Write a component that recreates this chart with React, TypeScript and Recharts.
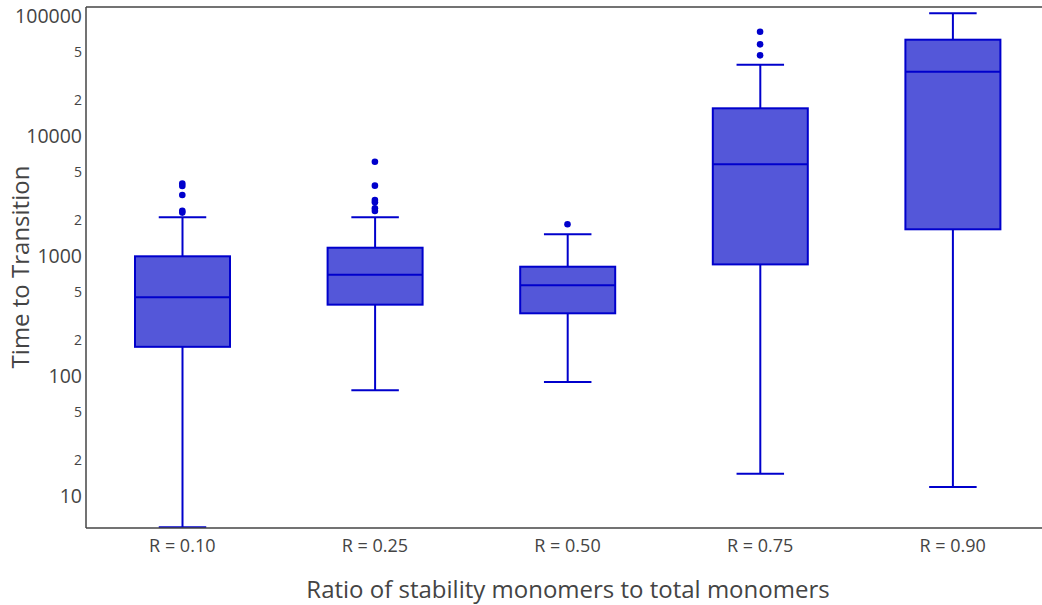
import React from "react";
import {
  ComposedChart,
  Bar,
  Scatter,
  XAxis,
  YAxis,
  ReferenceLine,
  Label,
} from "recharts";

const categories = ["R = 0.10", "R = 0.25", "R = 0.50", "R = 0.75", "R = 0.90"];
const whiskerLow = [5.5, 76, 89, 15.3, 11.9];
const q1 = [175, 393, 333, 851, 1669];
const median = [453, 698, 570, 5805, 34340];
const q3 = [994, 1172, 814, 17010, 63460];
const whiskerHigh = [2100, 2100, 1518, 39290, 105300];
const outliers: number[][] = [
  [4020, 3830, 3222, 2380, 2300],
  [6106, 3855, 2929, 2800, 2496, 2371],
  [1837],
  [73980, 58060, 46990],
  [],
];
const yTicks = [10, 20, 50, 100, 200, 500, 1000, 2000, 5000, 10000, 20000, 50000, 100000];
const yDomain: [number, number] = [5.41, 118850];

const boxData = categories.map((c, i) => ({
  cat: c,
  range: [whiskerLow[i], whiskerHigh[i]],
  lo: whiskerLow[i],
  q1: q1[i],
  med: median[i],
  q3: q3[i],
  hi: whiskerHigh[i],
}));

const outlierData = categories.flatMap((c, i) =>
  outliers[i].map((v) => ({ cat: c, v }))
);

const STROKE = "#0000cc";
const FILL = "#5457d9";
const TEXT = "#444";
const FONT = "'Open Sans', sans-serif";

const BoxShape = (props: any) => {
  const { x, y, width, height, payload } = props;
  if (x == null || y == null) return null;
  const lo = payload.lo;
  const hi = payload.hi;
  const L = Math.log10(hi) - Math.log10(lo);
  const yOf = (v: number) => y + (height * (Math.log10(hi) - Math.log10(v))) / L;
  const cx = x + width / 2;
  const capHalf = width / 4;
  const yq1 = yOf(payload.q1);
  const yq3 = yOf(payload.q3);
  const ym = yOf(payload.med);
  const yLo = y + height;
  const yHi = y;
  return (
    <g>
      <line x1={cx} x2={cx} y1={yHi} y2={yq3} stroke={STROKE} strokeWidth={2} />
      <line x1={cx} x2={cx} y1={yq1} y2={yLo} stroke={STROKE} strokeWidth={2} />
      <line x1={cx - capHalf} x2={cx + capHalf} y1={yHi} y2={yHi} stroke={STROKE} strokeWidth={2} />
      <line x1={cx - capHalf} x2={cx + capHalf} y1={yLo} y2={yLo} stroke={STROKE} strokeWidth={2} />
      <rect x={x} y={yq3} width={width} height={yq1 - yq3} fill={FILL} stroke={STROKE} strokeWidth={2} />
      <line x1={x} x2={x + width} y1={ym} y2={ym} stroke={STROKE} strokeWidth={2} />
    </g>
  );
};

const YTick = (props: any) => {
  const { y, payload } = props;
  const v = payload.value;
  const major = Math.abs(Math.log10(v) - Math.round(Math.log10(v))) < 1e-9;
  const label = major ? String(v) : String(Math.round(v / Math.pow(10, Math.floor(Math.log10(v)))));
  return (
    <text
      x={82}
      y={y}
      dy={major ? 7 : 5}
      textAnchor="end"
      fill={TEXT}
      fontFamily={FONT}
      fontSize={major ? 19.5 : 14}
    >
      {label}
    </text>
  );
};

const XTick = (props: any) => {
  const { x, y, payload } = props;
  return (
    <text x={x} y={y} dy={16} textAnchor="middle" fill={TEXT} fontFamily={FONT} fontSize={18}>
      {payload.value}
    </text>
  );
};

const Dot = (props: any) => {
  const { cx, cy } = props;
  if (cx == null || cy == null) return null;
  return <circle cx={cx} cy={cy} r={3.3} fill={STROKE} />;
};

export default function App() {
  return (
    <div style={{ position: "absolute", left: 0, top: 0, width: 1042, height: 605, overflow: "hidden", background: "#fff" }}>
      <ComposedChart
        width={1060}
        height={605}
        data={boxData}
        margin={{ top: 7, right: 11, bottom: 0, left: 0 }}
      >
        <XAxis
          dataKey="cat"
          type="category"
          allowDuplicatedCategory={false}
          height={77}
          axisLine={{ stroke: TEXT, strokeWidth: 1.5 }}
          tickLine={false}
          tick={<XTick />}
          interval={0}
        >
          <Label
            content={() => (
              <text x={568} y={598} textAnchor="middle" fill={TEXT} fontFamily={FONT} fontSize={24}>
                Ratio of stability monomers to total monomers
              </text>
            )}
          />
        </XAxis>
        <YAxis
          type="number"
          scale="log"
          domain={yDomain}
          allowDataOverflow
          ticks={yTicks}
          width={86}
          axisLine={{ stroke: TEXT, strokeWidth: 1.5 }}
          tickLine={false}
          tick={<YTick />}
          interval={0}
        >
          <Label
            content={() => (
              <text
                x={29}
                y={267}
                transform="rotate(-90 29 267)"
                textAnchor="middle"
                fill={TEXT}
                fontFamily={FONT}
                fontSize={24}
              >
                Time to Transition
              </text>
            )}
          />
        </YAxis>
        <ReferenceLine y={yDomain[1]} stroke={TEXT} strokeWidth={1.5} />
        <Bar dataKey="range" barSize={95} shape={<BoxShape />} isAnimationActive={false} />
        <Scatter data={outlierData} dataKey="v" shape={<Dot />} isAnimationActive={false} />
      </ComposedChart>
    </div>
  );
}
